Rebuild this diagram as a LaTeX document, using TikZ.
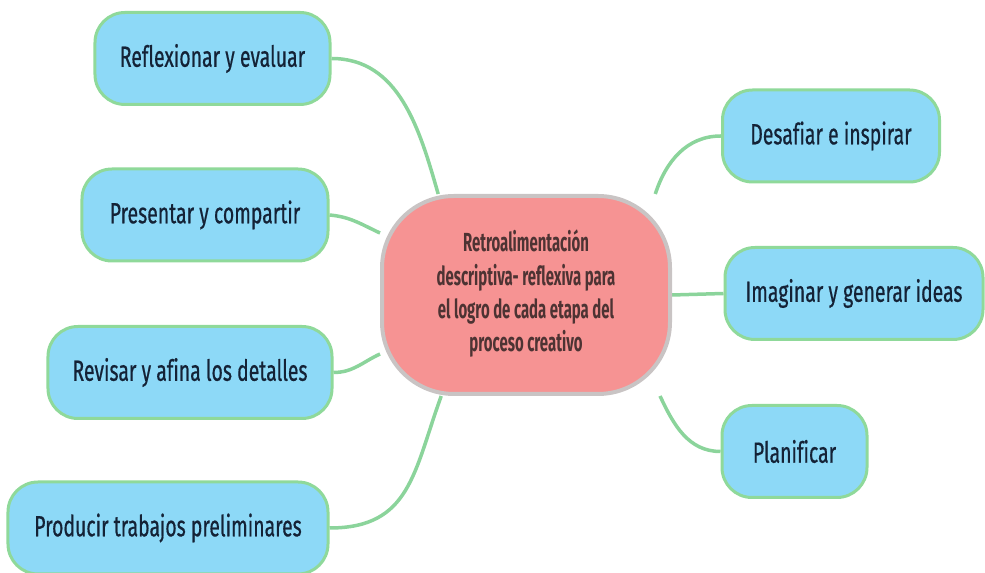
\documentclass[tikz,border=0pt]{standalone}
\usepackage{fontspec}
\setmainfont{Fira Sans}[Ligatures=NoCommon]
\newfontfamily\ramafont{Fira Sans}[Ligatures=NoCommon, FakeBold=0.7]
\usepackage{graphicx}
\usetikzlibrary{backgrounds}

\definecolor{cielo}{HTML}{8DD9F7}
\definecolor{verdeborde}{HTML}{8FD99A}
\definecolor{verdelinea}{HTML}{8BD49B}
\definecolor{rosa}{HTML}{F69393}
\definecolor{grisborde}{HTML}{C9C4C4}
\definecolor{tinta}{HTML}{142236}
\definecolor{tintaroja}{HTML}{4D3333}

\newcommand{\alto}[2][1.5]{\scalebox{1}[#1]{#2}}

\begin{document}
\begin{tikzpicture}[x=1bp, y=1bp,
    rama/.style={draw=verdeborde, line width=3bp, fill=cielo, rounded corners=30bp,
        minimum height=92bp, inner sep=0pt, text=tinta, font=\ramafont\fontsize{19.5}{24}\selectfont},
    enlace/.style={draw=verdelinea, line width=3.5bp}]
    \useasboundingbox (0,0) rectangle (985,573);

    % idea central
    \node[draw=grisborde, line width=4bp, fill=rosa, rounded corners=72bp,
        minimum width=288bp, minimum height=198bp, inner sep=0pt, text=tintaroja,
        font=\bfseries\fontsize{15}{19}\selectfont] (centro) at (526,278)
        {\alto[1.75]{\begin{tabular}{@{}c@{}}Retroalimentación\\descriptiva- reflexiva para\\el logro de cada etapa del\\proceso creativo\end{tabular}}};

    % ramas izquierda
    \node[rama, minimum width=235bp] (reflexionar) at (212.5,514.5) {\alto{Reflexionar y evaluar}};
    \node[rama, minimum width=246bp] (presentar) at (205,358) {\alto{Presentar y compartir}};
    \node[rama, minimum width=284bp] (revisar) at (190,200.5) {\alto{Revisar y afina los detalles}};
    \node[rama, minimum width=320bp] (producir) at (168,45) {\alto{Producir trabajos preliminares}};

    % ramas derecha
    \node[rama, minimum width=217bp] (desafiar) at (831,437) {\alto{Desafiar e inspirar}};
    \node[rama, minimum width=258bp] (imaginar) at (854,279.5) {\alto{Imaginar y generar ideas}};
    \node[rama, minimum width=145bp] (planificar) at (794.5,121.5) {\alto{Planificar}};

    \begin{scope}[on background layer]
        \draw[enlace] (reflexionar.east) to[out=0, in=106] (centro.131);
        \draw[enlace] (presentar.east) to[out=-5, in=155] (centro.157);
        \draw[enlace] (revisar.east) to[out=0, in=205] (centro.202);
        \draw[enlace] (producir.east) to[out=0, in=250, looseness=1.2] (centro.230);
        \draw[enlace] (desafiar.west) to[out=180, in=72] (centro.38);
        \draw[enlace] (imaginar.west) -- (centro.east);
        \draw[enlace] (planificar.west) to[out=180, in=-65] (centro.323);
    \end{scope}
\end{tikzpicture}
\end{document}
